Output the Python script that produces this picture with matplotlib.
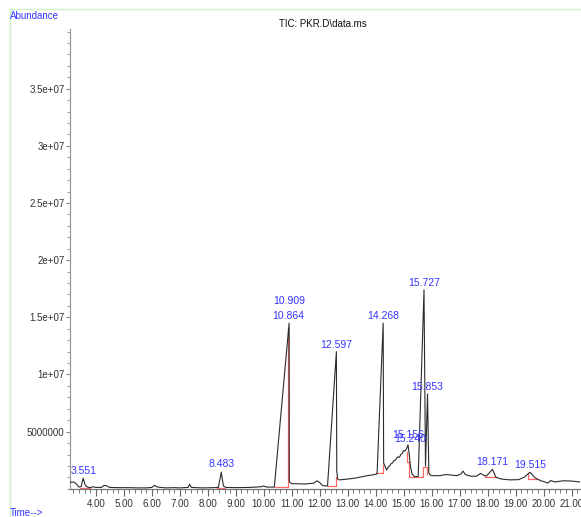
import numpy as np
import matplotlib
matplotlib.use("Agg")
import matplotlib.pyplot as plt
from matplotlib.ticker import MultipleLocator, FixedLocator, FixedFormatter, FuncFormatter
from matplotlib.patches import Rectangle

# ---------------- data (time in minutes, abundance in millions) ----------------
time_min = [3.08, 3.20, 3.30, 3.40, 3.48, 3.551, 3.62, 3.70, 3.80, 3.90, 4.00, 4.20, 4.30, 4.40,
            4.50, 4.80, 5.20, 5.50, 5.80, 6.00, 6.10, 6.20, 6.50, 6.80, 7.00, 7.30, 7.35, 7.42,
            7.80, 8.20, 8.38, 8.483, 8.56, 8.65, 9.00, 9.50, 9.90, 10.00, 10.10, 10.38, 10.864,
            10.909, 10.915, 11.00, 11.50, 11.80, 11.90, 12.00, 12.10, 12.28, 12.597, 12.61, 12.64,
            12.70, 13.00, 13.30, 13.50, 13.70, 13.90, 14.05, 14.268, 14.285, 14.33, 14.39, 14.45,
            14.50, 14.55, 14.60, 14.65, 14.70, 14.75, 14.80, 14.85, 14.90, 14.95, 15.00, 15.05,
            15.10, 15.156, 15.20, 15.24, 15.30, 15.40, 15.52, 15.727, 15.78, 15.853, 15.90, 15.95,
            16.00, 16.30, 16.50, 16.70, 16.90, 17.05, 17.12, 17.20, 17.40, 17.60, 17.75, 17.85,
            17.95, 18.171, 18.30, 18.50, 18.80, 19.10, 19.30, 19.515, 19.70, 19.90, 20.05, 20.15,
            20.25, 20.40, 20.70, 21.00, 21.30]
abundance_m = [0.57, 0.60, 0.45, 0.15, 0.20, 0.92, 0.35, 0.15, 0.10, 0.18, 0.12, 0.12, 0.30, 0.25,
               0.12, 0.10, 0.10, 0.08, 0.08, 0.12, 0.30, 0.15, 0.08, 0.10, 0.08, 0.12, 0.40, 0.12,
               0.08, 0.10, 0.12, 1.45, 0.25, 0.12, 0.10, 0.12, 0.18, 0.25, 0.15, 0.15, 13.3,
               14.5, 0.60, 0.45, 0.42, 0.50, 0.70, 0.55, 0.28, 0.25, 12.0, 1.60, 0.85,
               0.78, 0.85, 0.95, 1.05, 1.15, 1.22, 1.30, 14.5, 2.25, 2.00, 1.65, 1.90,
               2.00, 2.20, 2.25, 2.45, 2.50, 2.70, 2.80, 2.75, 3.00, 3.10, 3.35, 3.30,
               3.50, 3.84, 3.00, 2.00, 1.30, 1.05, 1.10, 17.4, 2.00, 8.3, 1.40, 1.20,
               1.15, 1.15, 1.25, 1.20, 1.15, 1.30, 1.55, 1.25, 1.10, 1.10, 1.35, 1.20,
               1.10, 1.70, 1.00, 0.85, 0.78, 0.80, 1.00, 1.45, 0.95, 0.70, 0.60, 0.50,
               0.72, 0.60, 0.70, 0.68, 0.60]

peak_labels = ["3.551", "8.483", "10.909", "10.864", "12.597", "14.268", "15.156", "15.240",
               "15.727", "15.853", "18.171", "19.515"]
peak_rt = [float(s) for s in peak_labels]
peak_top_m = [0.92, 1.45, 14.5, 14.5, 12.0, 14.5, 3.84, 3.84, 17.4, 8.3, 1.70, 1.45]
label_offset_pt = [1.5, 2.5, 12.5, 1.5, 1.5, 1.5, 3.5, 0.5, 1.5, 1.5, 1.5, 1.5]

# integration baselines (red): (times, abundances in millions)
baseline_segments = [
    ([3.42, 3.80], [0.08, 0.08]),
    ([8.32, 8.62], [0.08, 0.08]),
    ([10.40, 10.88, 10.88], [0.18, 0.18, 13.9]),
    ([12.28, 12.60, 12.60], [0.25, 0.25, 1.0]),
    ([14.01, 14.27, 14.27], [1.36, 1.36, 2.08]),
    ([15.13, 15.13, 15.18, 15.18, 15.70, 15.70, 15.82, 15.82],
     [3.25, 2.37, 2.37, 1.06, 1.06, 1.94, 1.94, 1.30]),
    ([17.92, 18.30], [1.06, 1.06]),
    ([19.45, 19.45, 19.78], [1.40, 0.86, 0.86]),
]

y_tick_values = [5e6, 1e7, 1.5e7, 2e7, 2.5e7, 3e7, 3.5e7]
y_tick_labels = ["5000000", "1e+07", "1.5e+07", "2e+07", "2.5e+07", "3e+07", "3.5e+07"]

# ---------------- figure ----------------
FONT = ["Liberation Sans Narrow", "Liberation Sans", "DejaVu Sans"]
plt.rcParams["font.family"] = FONT

W, H = 581, 517
fig = plt.figure(figsize=(W / 100, H / 100), dpi=100)
fig.patch.set_facecolor("white")

ax_left, ax_right, ax_bottom, ax_top = 70, 580, 488.8, 29.3
ax = fig.add_axes([ax_left / W, 1 - ax_bottom / H, (ax_right - ax_left) / W, (ax_bottom - ax_top) / H])
ax.set_facecolor("none")

ax.plot(np.array(time_min), np.array(abundance_m) * 1e6, color="#2b2b2b", lw=0.8, zorder=3)
for ts, vals in baseline_segments:
    ax.plot(ts, np.array(vals) * 1e6, color="#ff6666", lw=0.9, zorder=2)

for lab, rt, top, off in zip(peak_labels, peak_rt, peak_top_m, label_offset_pt):
    ax.annotate(lab, (rt, top * 1e6), xytext=(0, off), textcoords="offset points",
                ha="center", va="bottom", color="#3434ff", fontsize=7.5, zorder=4)

ax.set_xlim(3.08, 21.3)
ax.set_ylim(0, 4.02e7)

for s in ("top", "right"):
    ax.spines[s].set_visible(False)
ax.spines["left"].set_color("#999999")
ax.spines["bottom"].set_color("#777777")
ax.spines["left"].set_linewidth(0.9)
ax.spines["bottom"].set_linewidth(0.9)

ax.xaxis.set_major_locator(MultipleLocator(1))
ax.xaxis.set_minor_locator(MultipleLocator(0.2))
ax.xaxis.set_major_formatter(FuncFormatter(lambda v, p: f"{v:.2f}"))
ax.yaxis.set_major_locator(FixedLocator(y_tick_values))
ax.yaxis.set_major_formatter(FixedFormatter(y_tick_labels))
ax.yaxis.set_minor_locator(MultipleLocator(1e6))

ax.tick_params(axis="x", which="major", length=5, width=0.8, color="#666666",
               labelsize=7, labelcolor="#333333", pad=2)
ax.tick_params(axis="x", which="minor", length=3, width=0.7, color="#777777")
ax.tick_params(axis="y", which="major", length=3, width=0.8, color="#888888",
               labelsize=7, labelcolor="#333333", pad=1)
ax.tick_params(axis="y", which="minor", length=2.5, width=0.7, color="#999999")

# texts
fig.text(10 / W, 1 - 16 / H, "Abundance", color="#3333ff", fontsize=7, ha="left", va="center")
fig.text(10 / W, 1 - 512.5 / H, "Time-->", color="#3333ff", fontsize=7, ha="left", va="center")
fig.text(323 / W, 1 - 24 / H, "TIC: PKR.D\\data.ms", color="#111111", fontsize=7, ha="center", va="center")

# light green frame
fig.add_artist(Rectangle((9.5 / W, -0.02), 1.0, 1 - 8.5 / H + 0.02, transform=fig.transFigure,
                         fill=False, edgecolor="#c9f2c9", lw=1.0))

fig.savefig("out.png", dpi=100)
